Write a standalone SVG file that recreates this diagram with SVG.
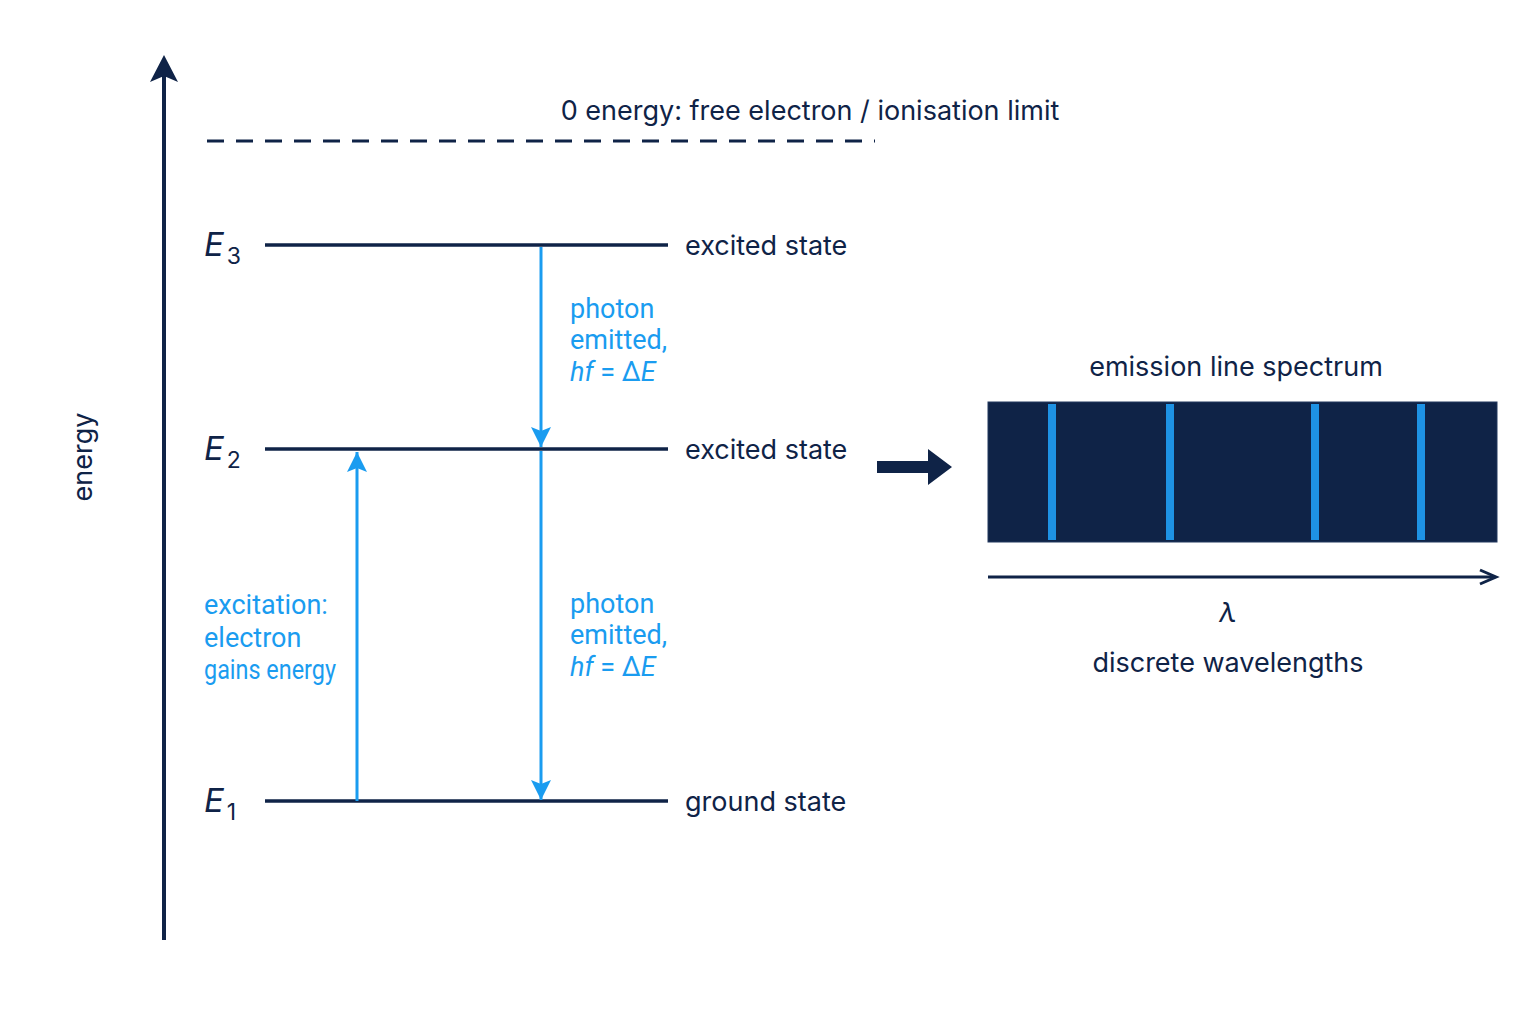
<svg xmlns="http://www.w3.org/2000/svg" width="1536" height="1024" viewBox="0 0 1536 1024">
<style>
.d{fill:#0f2347;font-family:Inter,"Liberation Sans",sans-serif;font-size:27px}
.b{fill:#1a9cf0;font-family:Roboto,"Liberation Sans",sans-serif;font-size:27px}
.lv{stroke:#0f2347;stroke-width:3.5}
.ba{stroke:#1a9cf0;stroke-width:3}
.e{fill:#0f2347;font-family:Inter,"Liberation Sans",sans-serif;font-size:33px;font-style:italic}
.s{font-size:23px;font-style:normal}
</style>
<defs>
<marker id="bt" viewBox="0 0 24 24" refX="22" refY="12" markerWidth="24" markerHeight="24" orient="auto" markerUnits="userSpaceOnUse"><path d="M2,2 L22,12 L2,22 L6,12 Z" fill="#1a9cf0"/></marker>
</defs>
<rect width="1536" height="1024" fill="#fff"/>
<g id="axis">
<line x1="164" y1="940" x2="164" y2="70" stroke="#0f2347" stroke-width="4"/>
<path d="M164,55 L178,82 L164,76 L150,82 Z" fill="#0f2347"/>
<text class="d" transform="translate(92,457) rotate(-90)" text-anchor="middle" font-size="31">energy</text>
</g>
<g id="limit">
<line x1="207" y1="141" x2="875" y2="141" stroke="#0f2347" stroke-width="3" stroke-dasharray="17,12"/>
<text class="d" x="810" y="120" text-anchor="middle" font-size="28">0 energy: free electron / ionisation limit</text>
</g>
<g id="E3"><line class="lv" x1="265" y1="245" x2="668" y2="245"/><text class="e" x="204" y="256">E<tspan class="s" dx="3" dy="8">3</tspan></text><text class="d" x="685" y="255">excited state</text></g>
<g id="E2"><line class="lv" x1="265" y1="449" x2="668" y2="449"/><text class="e" x="204" y="460">E<tspan class="s" dx="3" dy="8">2</tspan></text><text class="d" x="685" y="459">excited state</text></g>
<g id="E1"><line class="lv" x1="265" y1="801" x2="668" y2="801"/><text class="e" x="204" y="812">E<tspan class="s" dx="3" dy="8">1</tspan></text><text class="d" x="685" y="811">ground state</text></g>
<g id="connectors">
<line class="ba" x1="357" y1="801" x2="357" y2="452" marker-end="url(#bt)"/>
<line class="ba" x1="541" y1="247" x2="541" y2="447" marker-end="url(#bt)"/>
<line class="ba" x1="541" y1="451" x2="541" y2="800" marker-end="url(#bt)"/>
<path d="M877,461 H928 V449 L952,467 L928,485 V473 H877 Z" fill="#0f2347"/>
</g>
<g id="labels">
<text class="b" x="204" y="614" font-size="25">excitation:</text>
<text class="b" x="204" y="647" font-size="25">electron</text>
<text class="b" x="204" y="679" font-size="25" textLength="132" lengthAdjust="spacingAndGlyphs">gains energy</text>
<text class="b" x="570" y="318">photon</text>
<text class="b" x="570" y="349">emitted,</text>
<text class="b" x="570" y="381"><tspan font-style="italic">hf</tspan> = Δ<tspan font-style="italic">E</tspan></text>
<text class="b" x="570" y="613">photon</text>
<text class="b" x="570" y="644">emitted,</text>
<text class="b" x="570" y="676"><tspan font-style="italic">hf</tspan> = Δ<tspan font-style="italic">E</tspan></text>
</g>
<g id="spectrum">
<text class="d" x="1236" y="376" text-anchor="middle" font-size="30">emission line spectrum</text>
<rect x="988" y="402" width="509" height="140" fill="#0f2347" stroke="#23395e" stroke-width="1"/>
<g fill="#1e92e4"><rect x="1048" y="404" width="8" height="136"/><rect x="1166" y="404" width="8" height="136"/><rect x="1311" y="404" width="8" height="136"/><rect x="1417" y="404" width="8" height="136"/></g>
<line x1="988" y1="577" x2="1493" y2="577" stroke="#0f2347" stroke-width="3"/>
<path d="M1480,570 L1496,577 L1480,584" fill="none" stroke="#0f2347" stroke-width="3"/>
<text class="d" x="1228" y="622" text-anchor="middle" font-style="italic" font-size="32">λ</text>
<text class="d" x="1228" y="672" text-anchor="middle" font-size="28">discrete wavelengths</text>
</g>
</svg>
